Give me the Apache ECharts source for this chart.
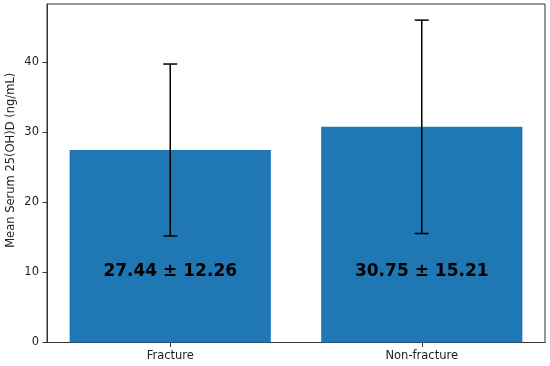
<!DOCTYPE html>
<html><head><meta charset="utf-8">
<script src="https://cdn.jsdelivr.net/npm/echarts@6/dist/echarts.min.js"></script>
<style>html,body{margin:0;padding:0;background:#fff}#c{width:550px;height:366px}</style>
</head><body><div id="c"></div>
<script>
const categories = ['Fracture', 'Non-fracture'];
const means = [27.44, 30.75];
const sds = [12.26, 15.21];
const valueLabels = ['27.44 ± 12.26', '30.75 ± 15.21'];
const yTicks = [0, 10, 20, 30, 40];
const xTicks = [0, 1];
const labelLevel = 10;

const chart = echarts.init(document.getElementById('c'), null, {renderer: 'canvas'});
const barHalf = 0.4;
const yMax = Math.max(...means.map((m, i) => m + sds[i])) * 1.05;

chart.setOption({
  animation: false,
  grid: {left: 47, right: 5, top: 4, bottom: 23.5, show: true, borderColor: '#333', borderWidth: 1,
    containLabel: false, outerBoundsMode: 'none'},
  xAxis: {
    type: 'value', min: -0.49, max: 1.49,
    splitLine: {show: false},
    axisLine: {show: true, onZero: false, lineStyle: {color: '#333', width: 1}},
    axisTick: {show: true, customValues: xTicks, length: 4.5, lineStyle: {color: '#333'}},
    axisLabel: {customValues: xTicks, formatter: v => categories[Math.round(v)], color: '#222',
      fontFamily: 'DejaVu Sans', fontSize: 11.5, margin: 8}
  },
  yAxis: {
    type: 'value', min: 0, max: yMax,
    name: 'Mean Serum 25(OH)D (ng/mL)', nameLocation: 'middle', nameGap: 30, nameMoveOverlap: false,
    nameTextStyle: {fontFamily: 'DejaVu Sans', fontSize: 11.5, color: '#222', padding: [0, 0, 0, 26]},
    splitLine: {show: false},
    axisLine: {show: true, onZero: false, lineStyle: {color: '#333', width: 1}},
    axisTick: {show: true, customValues: yTicks, length: 4.5, lineStyle: {color: '#333'}},
    axisLabel: {customValues: yTicks, color: '#222', fontFamily: 'DejaVu Sans', fontSize: 11.5, margin: 8}
  },
  series: [
    {
      type: 'custom',
      data: means.map((m, i) => [i, m]),
      renderItem: (params, api) => {
        const x = api.value(0), v = api.value(1);
        const p1 = api.coord([x - barHalf, v]);
        const p2 = api.coord([x + barHalf, 0]);
        return {type: 'rect', shape: {x: p1[0], y: p1[1], width: p2[0] - p1[0], height: p2[1] - p1[1]},
          style: {fill: '#1f77b4'}};
      }
    },
    {
      type: 'custom',
      data: means.map((m, i) => [i, m - sds[i], m + sds[i]]),
      z: 3,
      renderItem: (params, api) => {
        const x = api.value(0);
        const lo = api.coord([x, api.value(1)]);
        const hi = api.coord([x, api.value(2)]);
        const cap = 7;
        const st = {stroke: '#000', lineWidth: 1.5};
        return {type: 'group', children: [
          {type: 'line', shape: {x1: lo[0], y1: lo[1], x2: hi[0], y2: hi[1]}, style: st},
          {type: 'line', shape: {x1: lo[0] - cap, y1: lo[1], x2: lo[0] + cap, y2: lo[1]}, style: st},
          {type: 'line', shape: {x1: hi[0] - cap, y1: hi[1], x2: hi[0] + cap, y2: hi[1]}, style: st}
        ]};
      }
    },
    {
      type: 'custom',
      data: means.map((m, i) => [i, labelLevel]),
      z: 4,
      renderItem: (params, api) => {
        const p = api.coord([api.value(0), api.value(1)]);
        return {type: 'text', x: p[0], y: p[1] - 1,
          style: {text: valueLabels[params.dataIndex], fill: '#000', fontFamily: 'DejaVu Sans',
            fontWeight: 'bold', fontSize: 17, align: 'center', verticalAlign: 'middle'}};
      }
    }
  ]
});
</script></body></html>
